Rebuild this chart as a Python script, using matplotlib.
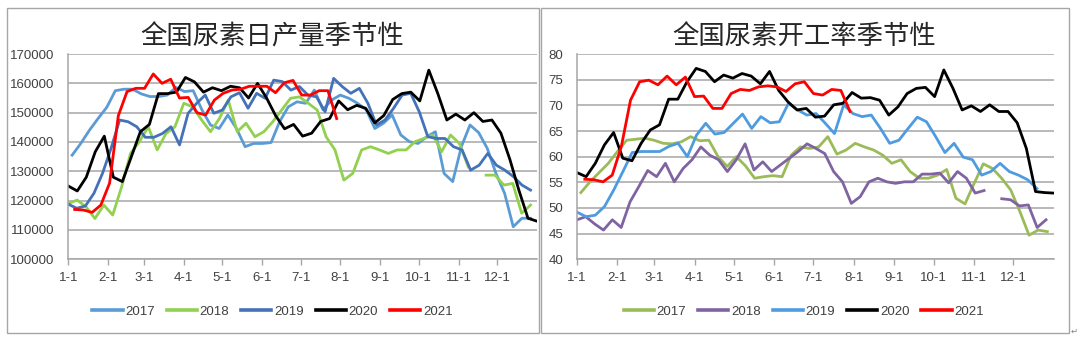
import numpy as np
import matplotlib.pyplot as plt
from matplotlib.patches import Rectangle

# x axis: first day of each month (day of year)
month_days = [0, 31, 59, 90, 120, 151, 181, 212, 243, 273, 304, 334]
month_labels = ["%d-1" % m for m in range(1, 13)]
years = ["2017", "2018", "2019", "2020", "2021"]

# 全国尿素日产量, weekly, in thousand tonnes (nan = missing week)
prod_2017 = [135.5, 139.5, 144, 148, 151.8, 157.5, 158, 158, 156.4, 155.5,
             155.5, 156, 158.6, 157.2, 157.5, 151, 145.8, 144.6, 149.2, 144.6,
             138.4, 139.5, 139.5, 139.8, 147, 152, 153.7, 153.2, 157.7, 151,
             154.3, 156, 154.9, 153.2, 151, 144.6, 146.4, 149.2, 142.4, 140.1,
             139.5, 141.8, 143.5, 129.3, 126.5, 138.4, 145.8, 143.2, 137.8, 129.3,
             122.5, 111.1, 114, 114]
prod_2018 = [119, 120.2, 117.9, 113.9, 118.5, 115.1, 124.7, 136.1, 140.1, 145.2,
             137.3, 142.9, 145.2, 153.2, 152, 147.5, 143.5, 148, 154.3, 143.5,
             146.4, 141.8, 143.5, 146.9, 150.9, 154.9, 155.4, 153.2, 150.9, 141.8,
             137.3, 127, 129.3, 137.3, 138.4, 137.3, 136.1, 137.3, 137.3, 140.1,
             141.2, 142.4, 136.7, 142.4, 139.5, 131.5, np.nan, 128.7, 128.7, 125.3,
             125.9, 115.7, 118.5]
prod_2019 = [118.8, 117.4, 118.2, 122.5, 129.3, 137.8, 147.5, 146.9, 145.2, 141.6,
             141.6, 142.9, 145.2, 139, 149.8, 153.2, 156, 149.8, 150.9, 155.4,
             156.8, 151.5, 156.6, 154.9, 161.1, 160.6, 157.7, 158.9, 156, 155.4,
             150.3, 161.7, 158.9, 156.6, 158.3, 153.2, 145.8, 147.5, 151.5, 156,
             156.6, 150.3, 141.8, 141.2, 141.2, 138.4, 137.3, 130.4, 132.1, 136.1,
             132.1, 130.4, 128.2, 125.3, 123.6]
prod_2020 = [125, 123.3, 128, 136.7, 142, 128, 126.5, 135, 143.5, 146,
             156.5, 156.5, 157, 162, 160.5, 157, 158.5, 157.5, 159, 158.5,
             155, 160, 155, 149, 144.5, 146, 142, 143, 147, 148,
             154, 151, 152.5, 151.5, 146.5, 149, 154.5, 156.5, 157, 154,
             164.5, 156.5, 147.5, 149.5, 147.5, 150, 147, 147.5, 143, 134,
             123.5, 114, 113]
prod_2021 = [117, 116.8, 116, 118.5, 126, 149, 157.2, 158.3, 158.3, 163.2,
             160, 161.4, 155, 155.2, 150, 149.2, 154.3, 156.6, 157.7, 158,
             159, 159, 159, 156.8, 160.2, 161, 156, 156, 157.5, 157.5, 148]
# day of year of first / last weekly point
prod_start = [3, 0, 0, 0, 5]
prod_end = [360, 360, 360, 365, 209]

# 全国尿素开工率, weekly, %
rate_2017 = [53, 55.1, 56.9, 58.7, 61, 63.2, 63.4, 63.6, 63.2, 62.6,
             62.5, 62.9, 63.9, 63.1, 63.2, 60, 58.1, 60, 58.2, 55.8,
             56.1, 56.3, 56.1, 60.3, 61.9, 61.6, 61.9, 63.9, 60.5, 61.3,
             62.6, 61.9, 61.3, 60.3, 58.7, 59.4, 57.1, 55.8, 55.8, 56.4,
             57.5, 51.9, 50.8, 54.8, 58.6, 57.7, 55.8, 53.5, 49.3, 44.7,
             45.7, 45.4]
rate_2018 = [47.7, 48.3, 46.9, 45.7, 47.7, 46.2, 51.2, 54.2, 57.3, 56.1,
             58.7, 55.1, 57.7, 59.4, 61.9, 60.3, 59.4, 57.1, 59.4, 62.5,
             57.4, 59, 57.1, 58.4, 59.7, 61, 62.5, 61.6, 60.6, 57.1,
             55.1, 50.9, 52.2, 55.1, 55.8, 55.1, 54.8, 55.1, 55.1, 56.6,
             56.6, 56.8, 54.9, 57.1, 55.8, 52.9, 53.4, np.nan, 51.8, 51.6,
             50.4, 50.6, 46.2, 47.7]
rate_2019 = [49.2, 48.3, 48.6, 50.3, 53.5, 57.1, 60.8, 61, 61, 61,
             62, 62.6, 60, 64.2, 66.5, 64.4, 64.7, 66.5, 68.3, 65.5,
             67.8, 66.6, 66.8, 70.4, 69.1, 68.1, 68.4, 66.5, 64.5, 70.1,
             68.4, 67.8, 68.1, 65.5, 62.6, 63.2, 65.5, 67.7, 66.8, 63.9,
             60.8, 62.6, 59.9, 59.4, 56.4, 57.1, 58.7, 57.1, 56.4, 55.5,
             53.8]
rate_2020 = [56.9, 56.1, 58.7, 62.3, 64.7, 59.7, 59.2, 62.6, 65.2, 66.2,
             71.2, 71.2, 74.6, 77.2, 76.6, 74.6, 75.9, 75.3, 76.2, 75.7,
             74.2, 76.6, 72.9, 70.7, 69.1, 69.4, 67.7, 67.9, 70.1, 70.4,
             72.5, 71.4, 71.5, 71, 68.1, 69.7, 72.3, 73.3, 73.5, 71.7,
             76.9, 73.3, 69.1, 69.9, 68.8, 70.1, 68.8, 68.8, 66.6, 61.6,
             53.2, 53, 52.9]
rate_2021 = [55.6, 55.5, 55.1, 56.4, 62, 71, 74.6, 74.9, 74, 75.7,
             74, 75.5, 71.7, 71.8, 69.4, 69.4, 72.3, 73.1, 72.9, 73.6,
             73.8, 73.6, 72.7, 74.2, 74.6, 72.3, 72, 73.1, 72.9, 68.8]
rate_start = [3, 0, 0, 0, 6]
rate_end = [360, 359, 352, 365, 209]

prod_colors = ["#5B9BD5", "#92D050", "#4472B8", "#000000", "#FF0000"]
rate_colors = ["#9BBB59", "#8064A2", "#4E9BE0", "#000000", "#FF0000"]

TICK_FONT = "Liberation Sans"
TITLE_FONT = ["Noto Sans CJK SC", "DejaVu Sans"]
GRID = "#A6A6A6"
TEXT = "#404040"


def draw_panel(fig, rect, series, starts, ends, colors, yticks, title, title_x):
    ax = fig.add_axes(rect)
    for vals, s, e, c, yr in zip(series, starts, ends, colors, years):
        v = np.array(vals, dtype=float)
        x = np.linspace(s, e, len(v))
        ax.plot(x, v, color=c, lw=2.0, label=yr)
    ax.set_xlim(0, 365)
    ax.set_ylim(yticks[0], yticks[-1])
    ax.set_xticks(month_days)
    ax.set_xticklabels(month_labels)
    ax.set_yticks(yticks)
    ax.set_yticklabels([str(t) for t in yticks])
    ax.grid(axis="y", color=GRID, lw=1.1)
    ax.set_axisbelow(True)
    for side in ["top", "right"]:
        ax.spines[side].set_visible(False)
    for side in ["left", "bottom"]:
        ax.spines[side].set_color(GRID)
        ax.spines[side].set_linewidth(1.1)
    ax.tick_params(axis="x", length=4, width=1, color=GRID, pad=5,
                   labelsize=9.5, labelcolor=TEXT)
    ax.tick_params(axis="y", length=0, pad=10, labelsize=9.5, labelcolor=TEXT)
    for lab in ax.get_xticklabels() + ax.get_yticklabels():
        lab.set_fontfamily(TICK_FONT)
    fig.text(title_x, 0.891, title, ha="center", va="center",
             fontsize=19, family=TITLE_FONT, color="#262626")
    leg = ax.legend(loc="center", bbox_to_anchor=(title_x, 0.078),
                    bbox_transform=fig.transFigure, ncol=5, frameon=False,
                    handlelength=2.3, handletextpad=0.2, columnspacing=0.9,
                    prop={"family": TICK_FONT, "size": 9.5})
    for line in leg.get_lines():
        line.set_linewidth(2.6)
    for t in leg.get_texts():
        t.set_color(TEXT)
    return ax


fig = plt.figure(figsize=(10.8, 3.38), dpi=100)

prod_k = [np.array(p, dtype=float) * 1000 for p in
          [prod_2017, prod_2018, prod_2019, prod_2020, prod_2021]]
prod_ticks = list(range(100000, 170001, 10000))
draw_panel(fig, [0.0632, 0.2328, 0.4340, 0.6074], prod_k,
           prod_start, prod_end, prod_colors, prod_ticks,
           "全国尿素日产量季节性", 0.2522)

rate_ticks = list(range(40, 81, 5))
draw_panel(fig, [0.5342, 0.2328, 0.4416, 0.6074],
           [rate_2017, rate_2018, rate_2019, rate_2020, rate_2021],
           rate_start, rate_end, rate_colors, rate_ticks,
           "全国尿素开工率季节性", 0.7443)

# chart frames
for x0, x1 in [(6.5, 539.0), (541.0, 1069.0)]:
    fig.patches.append(Rectangle((x0 / 1080, 1 - 332.5 / 338),
                                 (x1 - x0) / 1080, (332.5 - 7.5) / 338,
                                 transform=fig.transFigure, fill=False,
                                 edgecolor="#A6A6A6", lw=1.0))
fig.text(1074 / 1080, 1 - 331 / 338, "\u21b5", fontsize=6, color="#808080",
         ha="center", va="center")

fig.savefig("out.png", dpi=100)
